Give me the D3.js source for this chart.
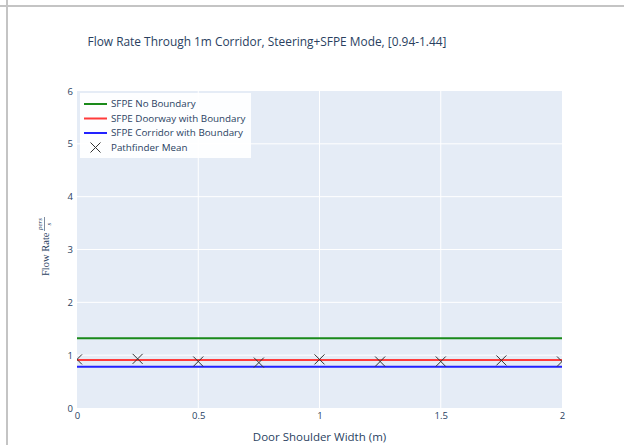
<!DOCTYPE html>
<html>
<head>
<meta charset="utf-8">
<script src="https://cdn.jsdelivr.net/npm/d3@7"></script>
<style>
  body { margin: 0; background: #fff; }
  text { font-family: "Open Sans", "Noto Sans", sans-serif; fill: #2a3f5f; }
  text.serif { font-family: "Liberation Serif", "DejaVu Serif", serif; }
</style>
</head>
<body>
<svg id="chart" width="624" height="445"></svg>
<script>
"use strict";

// SFPE reference flow rates (pers/s), constant over door shoulder width
const sfpeNames = ["SFPE No Boundary", "SFPE Doorway with Boundary", "SFPE Corridor with Boundary"];
const sfpeValues = [1.32, 0.91, 0.78];
const sfpeColors = ["#1a8a1a", "#ff3b3b", "#2222ff"];

// Pathfinder mean flow rate per shoulder width
const shoulderWidths = [0, 0.25, 0.5, 0.75, 1, 1.25, 1.5, 1.75, 2];
const pathfinderMean = [0.92, 0.93, 0.88, 0.86, 0.92, 0.88, 0.88, 0.90, 0.88];

const xTicks = [0, 0.5, 1, 1.5, 2];
const yTicks = [0, 1, 2, 3, 4, 5, 6];

const svg = d3.select("#chart");

// outer frame lines (left and top)
svg.append("line").attr("x1", 7).attr("x2", 7).attr("y1", 0).attr("y2", 445)
  .attr("stroke", "#c4c4c4").attr("stroke-width", 2);
svg.append("line").attr("x1", 0).attr("x2", 624).attr("y1", 6).attr("y2", 6)
  .attr("stroke", "#c4c4c4").attr("stroke-width", 2);

const plot = { left: 77, right: 562, top: 91, bottom: 408 };

const x = d3.scaleLinear().domain([0, 2]).range([plot.left, plot.right]);
const y = d3.scaleLinear().domain([0, 6]).range([plot.bottom, plot.top]);

svg.append("defs").append("clipPath").attr("id", "clip")
  .append("rect")
  .attr("x", plot.left).attr("y", plot.top)
  .attr("width", plot.right - plot.left).attr("height", plot.bottom - plot.top);

svg.append("rect")
  .attr("x", plot.left).attr("y", plot.top)
  .attr("width", plot.right - plot.left).attr("height", plot.bottom - plot.top)
  .attr("fill", "#e5ecf6");

// grid
svg.append("g").selectAll("line")
  .data(xTicks.slice(1, -1))
  .join("line")
  .attr("x1", d => x(d)).attr("x2", d => x(d))
  .attr("y1", plot.top).attr("y2", plot.bottom)
  .attr("stroke", "#fff").attr("stroke-width", 1);
svg.append("g").selectAll("line")
  .data(yTicks.slice(1, -1))
  .join("line")
  .attr("x1", plot.left).attr("x2", plot.right)
  .attr("y1", d => y(d)).attr("y2", d => y(d))
  .attr("stroke", "#fff").attr("stroke-width", 1);

// axes (ticks only as labels)
const xAxis = svg.append("g")
  .attr("transform", `translate(0,${plot.bottom})`)
  .call(d3.axisBottom(x).tickValues(xTicks).tickSize(0).tickPadding(4).tickFormat(d3.format("")));
const yAxis = svg.append("g")
  .attr("transform", `translate(${plot.left},0)`)
  .call(d3.axisLeft(y).tickValues(yTicks).tickSize(0).tickPadding(4).tickFormat(d3.format("")));
[xAxis, yAxis].forEach(a => {
  a.select(".domain").remove();
  a.selectAll("text").attr("font-size", 9.5).attr("fill", "#2a3f5f");
});

// data marks
const marks = svg.append("g").attr("clip-path", "url(#clip)");

marks.selectAll("line.sfpe")
  .data(sfpeValues)
  .join("line")
  .classed("sfpe", true)
  .attr("x1", x(0)).attr("x2", x(2))
  .attr("y1", d => y(d)).attr("y2", d => y(d))
  .attr("stroke", (d, i) => sfpeColors[i])
  .attr("stroke-width", 2);

const cross = 5;
marks.selectAll("path.mean")
  .data(shoulderWidths.map((w, i) => [w, pathfinderMean[i]]))
  .join("path")
  .classed("mean", true)
  .attr("d", d => {
    const cx = x(d[0]), cy = y(d[1]);
    return `M${cx - cross},${cy - cross}L${cx + cross},${cy + cross}M${cx - cross},${cy + cross}L${cx + cross},${cy - cross}`;
  })
  .attr("stroke", "#333").attr("stroke-width", 1).attr("fill", "none");

// title
svg.append("text")
  .attr("x", 267).attr("y", 46)
  .attr("text-anchor", "middle")
  .attr("font-size", 11.9)
  .text("Flow Rate Through 1m Corridor, Steering+SFPE Mode, [0.94-1.44]");

// x axis title
svg.append("text")
  .attr("x", (plot.left + plot.right) / 2).attr("y", 441)
  .attr("text-anchor", "middle")
  .attr("font-size", 11.5)
  .text("Door Shoulder Width (m)");

// y axis title with fraction
const yt = svg.append("g").attr("transform", "translate(49,276) rotate(-90)");
yt.append("text")
  .classed("serif", true)
  .attr("x", 0).attr("y", 0)
  .attr("font-size", 10.5)
  .text("Flow Rate");
yt.append("text")
  .classed("serif", true)
  .attr("x", 52).attr("y", -7)
  .attr("text-anchor", "middle")
  .attr("font-style", "italic")
  .attr("font-size", 7)
  .text("pers");
yt.append("line")
  .attr("x1", 45).attr("x2", 59).attr("y1", -4.5).attr("y2", -4.5)
  .attr("stroke", "#2a3f5f").attr("stroke-width", 0.6);
yt.append("text")
  .classed("serif", true)
  .attr("x", 52).attr("y", 2)
  .attr("text-anchor", "middle")
  .attr("font-style", "italic")
  .attr("font-size", 7)
  .text("s");

// legend
const legend = svg.append("g");
legend.append("rect")
  .attr("x", 80).attr("y", 93).attr("width", 171).attr("height", 65)
  .attr("fill", "#fff").attr("opacity", 0.92);

const legendNames = sfpeNames.concat(["Pathfinder Mean"]);
const ly = d3.scalePoint().domain(legendNames).range([104, 147.5]);

legendNames.forEach((name, i) => {
  const cy = ly(name);
  if (i < sfpeNames.length) {
    legend.append("line")
      .attr("x1", 84).attr("x2", 107).attr("y1", cy).attr("y2", cy)
      .attr("stroke", sfpeColors[i]).attr("stroke-width", 2);
  } else {
    legend.append("path")
      .attr("d", `M${95.5 - cross},${cy - cross}L${95.5 + cross},${cy + cross}M${95.5 - cross},${cy + cross}L${95.5 + cross},${cy - cross}`)
      .attr("stroke", "#333").attr("stroke-width", 1).attr("fill", "none");
  }
  legend.append("text")
    .attr("x", 111).attr("y", cy)
    .attr("dy", "0.35em")
    .attr("font-size", 9.8)
    .text(name);
});
</script>
</body>
</html>
